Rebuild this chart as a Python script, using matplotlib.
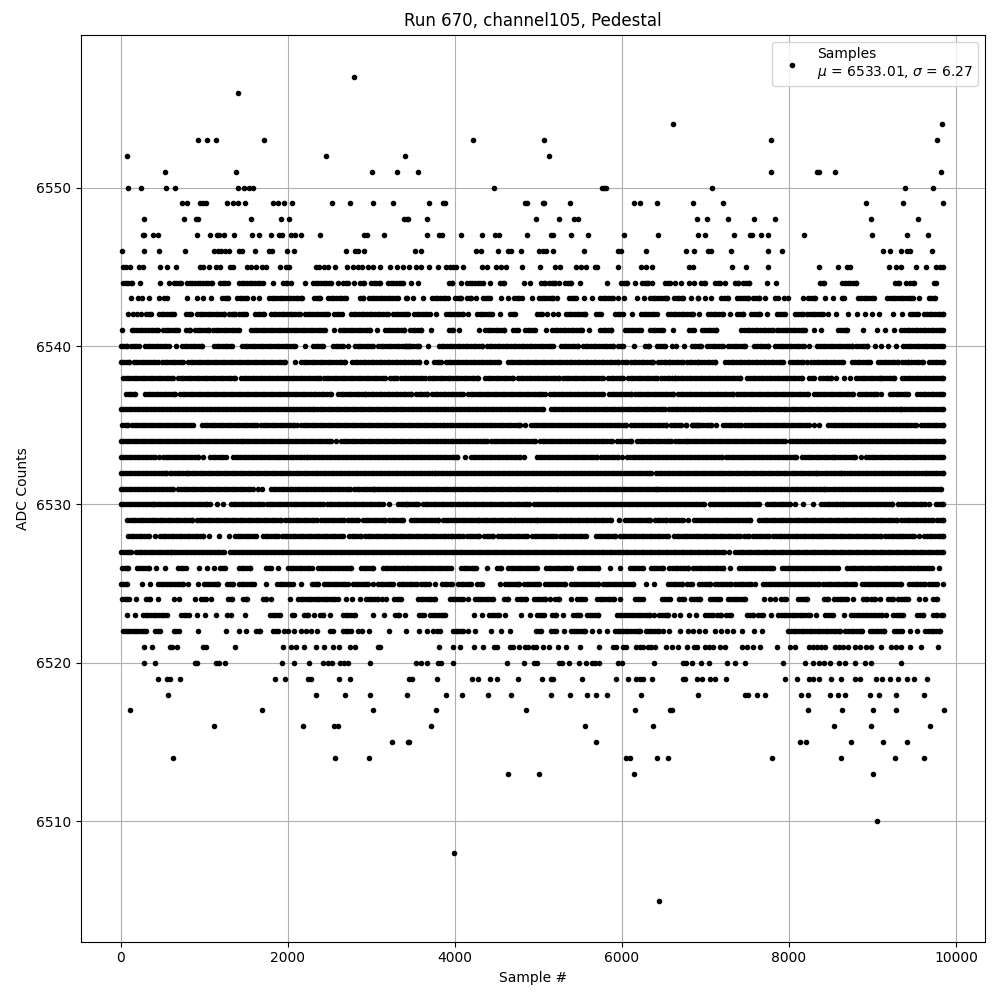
import numpy as np
import matplotlib
matplotlib.use("Agg")
import matplotlib.pyplot as plt

# Each level: sample numbers. A tuple is a visually
# continuous run of samples (start, end) seen at that ADC level.
adc_6557 = [2794]
adc_6556 = [1405]
adc_6554 = [6614, 9837]
adc_6553 = [926, 1034, 1141, 1716, 4219, 5070, 7789, 9777]
adc_6552 = [76, 2459, 3405, 5129]
adc_6551 = [531, 1381, 3010, 3309, 3561, 7789, 8332, 8364, 8555, 9825]
adc_6550 = [88, 243, 543, 650, 1405, 1477, 1537, 1589, 4471, 5760, 5784, 5808, 7082, 9394, 9729]
adc_6549 = [734, 794, 950, 986, 1022, 1273, 1345, 1405, 1489, 1824, 1884, 1956, 2052, 2531, 2746, 3022, 3261,
            3692, 3860, 3884, 4842, 4866, 5057, 5070, 5381, 6147, 6219, 6423, 6854, 7214, 8927, 9370, 9849]
adc_6548 = [279, 758, 902, 926, 1561, 1920, 2016, 3393, 3429, 3441, 3668, 4974, 5249, 5429, 5477, 6902,
            7022, 7274, 7585, 7837, 8986, 9549]
adc_6547 = [267, 287, 387, 447, 914, 1070, 1153, 1177, 1237, 1357, 1573, 1656, 1800, 1896, 1932, 2040, 2088, 2159,
            2387, 2914, 2950, 3153, 3668, 3812, 3848, 4076, 4327, 4483, 4531, 4866, 5153, 5177, 5393, 5596, 6028,
            6435, 6914, 6998, 7346, 7537, 7561, 7669, 7753, 8184, 8998, 9418, 9669]
adc_6546 = [16, 279, 459, 770, 1118, 1165, 1205, 1245, 1297, 1417, 1457, 1609, 1776, 1816, 1992, 2076, 2699, 2806,
            2842, 2914, 3525, 3597, 4255, 4315, 4519, 4638, 4674, 4794, 5010, 5057, 5097, 5177, 5549, 5956, 5996,
            6291, 6770, 6866, 7034, 7062, 7310, 7753, 7921, 9130, 9214, 9346, 9418, 9450, 9717]
adc_6545 = [28, 68, 116, 219, 267, 471, 555, 662, 946, 986, 1058, 1137, 1193, 1305, 1345, 1517, 1565, 1625, 1696,
            1736, 1908, 1976, 2016, 2343, 2375, 2435, 2483, 2567, 2710, 2782, 2842, 2890, 2962, 3022, 3106, 3225,
            3309, 3381, 3453, 3537, 3597, 3692, 3800, 3896, 3940, 3980, 4020, 4100, 4327, 4387, 4495, 4559, 4618,
            4806, 5022, 5201, 5261, 5453, 5513, 5577, 5680, 5704, 5956, 6231, 6295, 6363, 6806, 6854, 7322, 7489,
            7753, 8360, 8591, 8691, 8731, 9202, 9286, 9346, 9525, 9645, 9765, 9809, 9849]
adc_6544 = [(28, 135), 231, 471, 579, (638, 722), (794, 1094), (1189, 1285), (1417, 1704), 1824, (1944, 1992), 2040,
            2207, (2303, 2519), 2603, (2662, 2722), 2794, (2866, 2914), (2998, 3106), (3201, 3381), 3477, 3561,
            (3932, 3968), 4076, (4147, 4339), 4423, (4543, 4590), 4830, 4902, (5034, 5081), (5129, 5201), 5249,
            (5321, 5393), 5501, 5824, (5992, 6064), 6159, (6243, 6315), 6363, (6519, 6578), 6638, 6710, 6806, 6866,
            (6950, 6998), (7118, 7178), 7238, (7358, 7394), (7453, 7525), 7741, 7849, (8376, 8424), (8639, 8807),
            (9274, 9322), 9406, (9453, 9502), (9741, 9765)]
adc_6543 = [124, 207, 255, 339, 459, 519, 555, 794, 914, 986, 1082, (1213, 1285), (1393, 1513), 1585, 1656,
            (1776, 2171), (2315, 2387), (2483, 2698), (2866, 2902), (2974, 3321), 3417, 3429, 3501, 3620, (3728, 3920),
            (4004, 4076), (4147, 4195), 4255, (4339, 4423), 4555, 4638, (4710, 4806), 4926, (5010, 5177), 5225,
            (5369, 5453), 5549, 5648, (5740, 5896), 5956, 6028, 6183, 6267, (6339, 6543), (6626, 6734), 6830, 6914,
            6915, 6998, 7070, (7190, 7274), (7382, 7513), (7573, 7645), 7717, 7837, 7873, 7944, 7992, 8172,
            (8232, 8316), 8436, 8531, 8639, 8663, (8831, 9018), (9178, 9490), 9561, 9681, (9705, 9753)]
adc_6542 = [88, 147, 195, 243, (303, 363), (459, 646), (782, 842), (914, 1237), (1297, 1369), (1417, 1501), (1609, 1716),
            (1800, 2147), (2207, 2483), (2555, 2650), (2758, 3201), (3261, 3441), (3513, 3704), 3776, (3896, 4100), 4159,
            (4267, 4447), 4543, (4662, 4722), (4986, 5046), 5105, 5177, 5237, (5333, 5561), (5692, 5752), (5920, 6016),
            6123, (6231, 6423), (6555, 6854), 6927, (7034, 7214), 7298, (7382, 7453), (7549, 7657), 7741, (7861, 7957),
            (8076, 8172), (8220, 8412), 8471, 8567, 8711, 8819, 8915, 8998, 9082, 9250, 9358, (9453, 9549), (9621, 9850)]
adc_6541 = [16, (135, 447), (507, 686), (782, 830), (890, 1058), (1106, 1417), (1561, 2447), 2555, (2626, 2986), 3070,
            (3165, 3393), (3465, 3597), 3716, (3932, 3980), 4052, 4291, (4363, 4590), (4698, 4758), (4842, 4962), 5093,
            (5165, 5525), 5609, (5740, 5872), (6040, 6231), (6339, 6495), 6614, (6806, 6866), (6962, 7130), (7430, 7813),
            (7853, 8196), 8304, 8388, (8591, 8699), 8891, 9058, 9154, 9262, (9346, 9850)]
adc_6540 = [(0, 76), (124, 219), (291, 579), 662, (734, 974), (1118, 1333), (1453, 2088), 2207, (2303, 2423), (2543, 2662),
            2722, (2806, 3022), (3082, 3461), (3405, 3573), 3680, (3812, 4327), (4387, 5177), (5273, 5477), (5537, 5896),
            (5956, 6016), 6147, (6279, 6327), (6423, 6519), 6603, 6650, 6746, (6842, 6950), (7022, 7214), (7274, 7477),
            (7585, 7753), (7837, 8184), 8244, (8340, 8759), (8807, 8939), 9034, 9106, 9190, 9286, (9370, 9850)]
adc_6539 = [(0, 100), (159, 447), (495, 746), (806, 1968), 2088, (2159, 2543), (2579, 2686), (2770, 3573), 3656,
            (3752, 3836), (3896, 4531), (4638, 5956), (6004, 6064), (6111, 6375), (6435, 6578), (6614, 6734), (6782, 6915),
            (6950, 7118), (7238, 7933), (8016, 8172), 8220, (8268, 8651), (8759, 8974), (9070, 9310), (9358, 9430),
            (9466, 9609), (9681, 9850)]
adc_6538 = [(28, 627), (686, 1365), (1441, 2383), (2435, 3165), (3225, 3309), (3357, 3644), (3692, 4279), (4363, 4698),
            (4758, 5249), (5297, 5776), (5836, 6016), (6075, 6423), (6471, 6638), (6674, 7418), (7501, 8160), (8244, 8304),
            (8376, 8507), 8567, 8663, 8735, (8807, 9106), (9130, 9262), (9358, 9850)]
adc_6537 = [(64, 171), (291, 650), (710, 2519), (2603, 2926), (2962, 3477), (3537, 3668), (3728, 4100), (4159, 5046), 5081,
            (5141, 5776), (5848, 6111), (6159, 6614), (6674, 7334), (7382, 8232), 8304, (8340, 8771), (8843, 9058), 9106,
            (9214, 9430), (9537, 9850)]
adc_6536 = [(0, 2315), (2351, 5058), (5153, 6519), (6567, 6938), (6974, 7549), (7585, 9346), (9382, 9850)]
adc_6535 = [(16, 88), (136, 866), (974, 1632), (1680, 2076), 2111, (2159, 2986), (3022, 3872), (3908, 4782), 4842,
            (4914, 6052), (6111, 6531), (6590, 6710), 6770, (6854, 6914), 6771, (6843, 7070), 7130, (7214, 7430),
            (7477, 8244), 8304, 8364, (8471, 9525), (9585, 9850)]
adc_6534 = [(0, 88), (124, 1305), (1345, 1453), (1477, 2519), 2579, (2638, 3273), (3309, 3597), (3632, 4387), (4435, 4962),
            (5022, 5884), (5944, 6111), (6183, 6590), (6638, 6783), (6807, 7957), (8016, 9849)]
adc_6533 = [(0, 407), 459, (507, 926), 986, (1070, 1261), (1345, 1884), (1908, 2231), (2267, 4028), 4123, (4195, 4782), 4830,
            (4986, 5704), (5752, 5956), 6004, (6064, 7202), (7250, 7465), (7501, 8088), (8160, 8555), (8591, 8795), 8867,
            (8927, 9850)]
adc_6532 = [(0, 547), (587, 794), (818, 3764), (3800, 6351), (6411, 6567), (6603, 7178), (7202, 8328), (8364, 8627),
            (8663, 9645), (9681, 9850)]
adc_6531 = [(0, 627), 686, (722, 1585), 1644, 1692, (1800, 2742), (2794, 3022), (3046, 5225), (5261, 6423), (6447, 7214),
            (7238, 8424), (8459, 9825)]
adc_6530 = [(0, 387), (411, 1034), 1070, 1153, 1225, (1321, 1704), (1752, 2423), (2471, 3141), 3213, 3321, 3417, 3357,
            (3381, 3561), (3620, 4890), (4950, 6986), (7054, 7501), (7525, 7645), (7741, 8012), 8076, 8172, 8292,
            (8388, 8651), (8687, 9238), (9310, 9629), 9681, (9765, 9850)]
adc_6529 = [(76, 108), (147, 854), (914, 1920), (1968, 2351), (2399, 2675), (2722, 2842), (2902, 3165), (3213, 3381),
            (3477, 3800), (3860, 4291), (4327, 4722), (4758, 4986), (5022, 5872), 5968, (6040, 6339), (6399, 6531),
            (6578, 6734), 6794, (6867, 7274), (7310, 7537), (7645, 9298), (9346, 9729), (9777, 9850)]
adc_6528 = [(88, 339), 411, (471, 986), 1058, 1177, 1297, (1369, 1617), (1704, 1884), (1932, 2662), (2734, 2882),
            (2926, 3968), (4004, 4100), (4147, 4291), (4351, 4459), (4519, 4866), (4926, 5213), (5261, 5573), (5692, 5920),
            (5980, 6555), (6626, 7418), (7465, 7525), (7573, 7765), (7813, 8412), (8448, 9106), (9154, 9370), (9406, 9502),
            9561, (9621, 9850)]
adc_6527 = [(8, 128), (187, 607), (638, 1237), (1309, 7226), 7286, (7358, 9850)]
adc_6526 = [(16, 88), (195, 339), 423, 531, (686, 782), 938, 1034, 1118, (1189, 1249), (1417, 1549), (1740, 1800), 1884,
            (2004, 2291), (2363, 2758), (2878, 3022), (3141, 3441), (3477, 3956), (4076, 4255), 4387, (4507, 4555),
            (4638, 4986), (5093, 5393), (5489, 5716), 5860, 5980, (6099, 6255), (6351, 6495), (6567, 6794), (6854, 7214),
            7298, (7406, 7813), (7921, 8591), (8699, 9549), (9585, 9709), 9801]
adc_6525 = [(0, 76), 255, 347, (447, 746), 806, 926, (998, 1165), (1273, 1345), (1417, 1597), 1740, (1872, 2064), 2159,
            (2291, 2363), (2435, 2722), (2782, 2962), 3022, (3082, 3261), (3333, 3549), (3597, 3692), 3764, (3848, 3968),
            (4040, 4195), (4267, 4327), 4543, (4602, 4770), (4830, 5010), (5081, 5321), (5393, 5716), (5776, 6135), 6291,
            6387, (6555, 6722), (6782, 6843), (6927, 7058), (7118, 7310), (7358, 7549), 7597, (7693, 8364), (8412, 8795),
            (8879, 9346), (9442, 9633), (9681, 9777), 9850]
adc_6524 = [(16, 100), 183, (303, 351), 447, 638, 698, 890, (962, 1026), 1082, (1285, 1333), (1465, 1513), (1704, 1740),
            1800, 2028, (2123, 2603), 2698, 2770, 2866, (2938, 3082), 3130, 3177, (3273, 3357), (3561, 3764), (3944, 4100),
            4159, (4243, 4459), (4590, 4638), (4746, 4854), (4950, 5081), 5141, (5201, 5249), 5393, (5465, 5561),
            (5704, 5908), 5980, (6159, 6255), (6483, 6579), (6686, 6746), (6830, 6938), (7058, 7178), (7274, 7477), 7705,
            7777, 7837, (7909, 7968), (8112, 8220), (8424, 8471), (8543, 8699), 8771, (8891, 8939), (8986, 9034), 9094,
            (9190, 9250), (9310, 9430), 9561, 9633, (9729, 9777)]
adc_6523 = [76, 171, (267, 555), (722, 818), 914, 1010, 1141, 1273, 1321, 1489, (1788, 1908), (2048, 2072), (2195, 2243),
            2315, (2387, 2423), 2507, (2662, 2806), 3022, 3153, (3285, 3333), 3405, (3573, 3632), (3704, 3884), 4231, 4327,
            (4411, 4531), 4602, 4794, 4898, (4986, 5070), (5165, 5213), 5297, (5417, 5501), (5585, 5716), (5944, 6335), 6387,
            (6447, 6555), 6626, 6698, 6806, 6890, (6998, 7094), (7142, 7190), (7250, 7310), (7501, 7573), (7633, 7693), 7789,
            (7873, 8252), 8324, (8436, 8531), 8663, (8747, 9118), 9166, (9250, 9370), (9537, 9609), (9729, 9777), (9825, 9850)]
adc_6522 = [(28, 307), (411, 467), (638, 698), 926, 1261, 1417, 1501, (1621, 1664), (1824, 1884), 1956, 2004, 2076, 2159, 2219,
            2279, 2351, 2507, 2543, (2662, 2758), 2842, 2890, 2974, 3213, 3421, 3573, 3668, 3740, 3788, 3824, (3980, 4100),
            4159, 4243, 4435, 4555, 4662, (4974, 5034), (5153, 5213), 5309, (5393, 5561), 5644, 5728, 5824, (5920, 6219),
            (6291, 6447), 6495, 6567, 6698, 6794, 6854, 6927, 6998, 7118, 7190, 7254, 7334, 7441, 7585, 7681, (7992, 8611),
            (8675, 8879), (8974, 9142), (9262, 9358), 9453, 9537, (9633, 9813)]
adc_6521 = [279, 375, 587, 615, 678, 986, 1026, 1369, 1944, 2040, 2104, 2195, 2339, 2435, 2543, 2615, 2746, 2806, 3082, 3110,
            3812, 3980, 4064, 4231, 4339, 4471, 4507, 4662, 4698, 4770, 4842, 4878, 4938, 4974, 5058, 5129, 5237, 5333, 5501,
            5728, 5896, 5932, 6016, 6052, 6171, 6219, 6255, 6315, 6351, 6399, 6531, 6603, 6674, 6782, 6866, 6902, 6998, 7046,
            7094, 7178, 7238, 7441, 7501, 7573, 7657, 7861, 8016, 8076, 8244, 8292, 8340, 8388, 8436, 8555, 8603, 8651, 8711,
            8795, 8855, 8927, 8986, 9106, 9226, 9286, 9346, 9453, 9585, 9789]
adc_6520 = [279, 411, 890, 914, 1141, 1177, 1249, 1932, 2076, 2255, 2423, 2483, 2531, 2627, 2675, 2722, 2986, 3537, 3597, 3668,
            3800, 3836, 3980, 4626, 4830, 4950, 4986, 5249, 5285, 5369, 5489, 5573, 5644, 5680, 5728, 5956, 6004, 6387, 6734,
            6770, 6842, 6950, 7046, 7262, 7358, 7477, 7933, 8196, 8292, 8364, 8424, 8495, 8603, 8675, 8795, 8915, 8986, 9346]
adc_6519 = [447, 555, 587, 710, 1848, 1968, 2243, 2279, 2615, 2746, 3453, 3489, 3788, 4207, 4279, 4423, 4507, 4758, 5046, 5153,
            5177, 5525, 5932, 6075, 6171, 6219, 6255, 6363, 6734, 6758, 6902, 6962, 7058, 7118, 7250, 7956, 8100, 8244, 8292,
            8364, 8507, 8627, 8795, 8855, 9046, 9118, 9210, 9310, 9418, 9502, 9657]
adc_6518 = [567, 2339, 2686, 2986, 3429, 3896, 4088, 4399, 4674, 5153, 5381, 5585, 5692, 5824, 6231, 6910, 7477, 7513, 7621,
            7717, 8148, 8232, 8495, 8591, 8675, 8974, 9082, 9286, 9621]
adc_6517 = [112, 1692, 3022, 3776, 4854, 6159, 6575, 6598, 8232, 8639, 9010, 9286, 9861]
adc_6516 = [1118, 2183, 2555, 2603, 3716, 5561, 6375, 8543, 8986, 9693]
adc_6515 = [3249, 3441, 3453, 5692, 8136, 8208, 8747, 9130, 9418]
adc_6514 = [626, 2567, 2974, 6052, 6099, 6423, 6555, 7801, 8627, 9274, 9621]
adc_6513 = [4638, 5010, 6147, 9010]
adc_6510 = [9058]
adc_6508 = [3992]
adc_6505 = [6447]

rows = [(6557, adc_6557), (6556, adc_6556), (6554, adc_6554), (6553, adc_6553), (6552, adc_6552), (6551, adc_6551),
        (6550, adc_6550), (6549, adc_6549), (6548, adc_6548), (6547, adc_6547), (6546, adc_6546), (6545, adc_6545),
        (6544, adc_6544), (6543, adc_6543), (6542, adc_6542), (6541, adc_6541), (6540, adc_6540), (6539, adc_6539),
        (6538, adc_6538), (6537, adc_6537), (6536, adc_6536), (6535, adc_6535), (6534, adc_6534), (6533, adc_6533),
        (6532, adc_6532), (6531, adc_6531), (6530, adc_6530), (6529, adc_6529), (6528, adc_6528), (6527, adc_6527),
        (6526, adc_6526), (6525, adc_6525), (6524, adc_6524), (6523, adc_6523), (6522, adc_6522), (6521, adc_6521),
        (6520, adc_6520), (6519, adc_6519), (6518, adc_6518), (6517, adc_6517), (6516, adc_6516), (6515, adc_6515),
        (6514, adc_6514), (6513, adc_6513), (6510, adc_6510), (6508, adc_6508), (6505, adc_6505)]

xs, ys = [], []
for level, items in rows:
    for it in items:
        if isinstance(it, tuple):
            run = list(range(it[0], it[1], 32)) + [it[1]]
        else:
            run = [it]
        xs.extend(run)
        ys.extend([level] * len(run))

fig = plt.figure(figsize=(10, 10), dpi=100)
ax = fig.add_axes([0.0805, 0.0583, 0.9045, 0.907])
ax.plot(xs, ys, "k.", label="Samples\n$\\mu$ = 6533.01, $\\sigma$ = 6.27")
ax.set_xlim(-479, 10347)
ax.set_ylim(6502.4, 6559.65)
ax.set_xticks([0, 2000, 4000, 6000, 8000, 10000])
ax.set_yticks([6510, 6520, 6530, 6540, 6550])
ax.ticklabel_format(useOffset=False, style="plain")
ax.grid(True)
ax.set_title("Run 670, channel105, Pedestal")
ax.set_xlabel("Sample #")
ax.set_ylabel("ADC Counts")
ax.legend(loc="upper right")
fig.savefig("out.png", dpi=100)
